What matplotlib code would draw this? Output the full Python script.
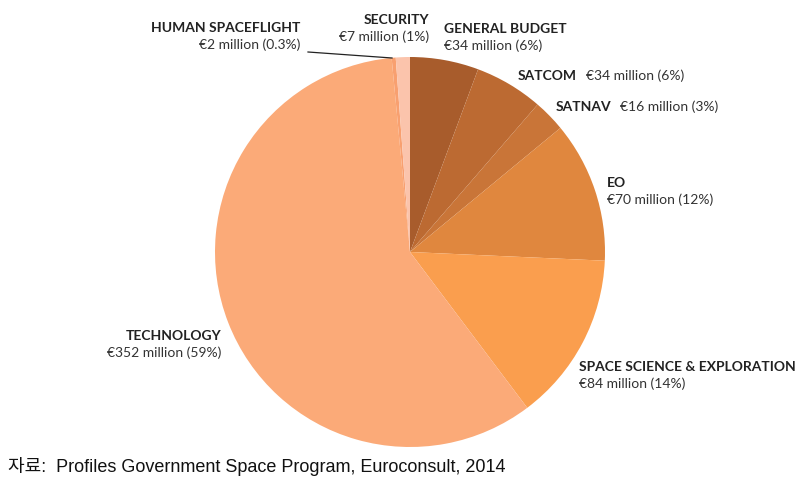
import matplotlib.pyplot as plt

# Budget breakdown, clockwise from 12 o'clock
names = ["GENERAL BUDGET", "SATCOM", "SATNAV", "EO",
         "SPACE SCIENCE & EXPLORATION", "TECHNOLOGY",
         "HUMAN SPACEFLIGHT", "SECURITY"]
values = [34, 34, 16, 70, 84, 352, 2, 7]
value_labels = ["€34 million (6%)", "€34 million (6%)", "€16 million (3%)",
                "€70 million (12%)", "€84 million (14%)", "€352 million (59%)",
                "€2 million (0.3%)", "€7 million (1%)"]
colors = ["#a85c2c", "#bc6a32", "#c97538", "#e0873e",
          "#fa9e4e", "#fbaa78", "#f8a070", "#fbc4ac"]

W, H = 805, 490
fig = plt.figure(figsize=(W / 100, H / 100), dpi=100)
ax = fig.add_axes([0, 0, 1, 1])

# pie centre / radius in pixel units (y measured from bottom)
cx, cy, r = 410, H - 252, 195
ax.pie(values, colors=colors, startangle=90, counterclock=False,
       center=(cx, cy), radius=r, frame=True,
       wedgeprops=dict(linewidth=0))
ax.set_xlim(0, W)
ax.set_ylim(0, H)
ax.axis("off")

lab_font = "Lato"
fs = 10
name_col = "#222222"
val_col = "#333333"


def label(x, y, i, ha="left", gap=17):
    ax.text(x, H - y, names[i], ha=ha, va="center", fontsize=fs,
            fontweight="bold", color=name_col, family=lab_font)
    ax.text(x, H - y - gap, value_labels[i], ha=ha, va="center", fontsize=fs,
            color=val_col, family=lab_font)


label(444, 29, 0)
label(607, 183, 3)
label(579, 367, 4)
label(221, 336, 5, ha="right")
label(300, 28, 6, ha="right")
label(429, 20, 7, ha="right")

# single-line labels
ax.text(518, H - 76, names[1], ha="left", va="center", fontsize=fs,
        fontweight="bold", color=name_col, family=lab_font)
ax.text(586, H - 76, value_labels[1], ha="left", va="center", fontsize=fs,
        color=val_col, family=lab_font)
ax.text(556, H - 107, names[2], ha="left", va="center", fontsize=fs,
        fontweight="bold", color=name_col, family=lab_font)
ax.text(620, H - 107, value_labels[2], ha="left", va="center", fontsize=fs,
        color=val_col, family=lab_font)

# leader line for human spaceflight
ax.plot([308, 392], [H - 52, H - 58], color="#222222", lw=0.9)

ax.text(8, H - 466, "자료:  Profiles Government Space Program, Euroconsult, 2014",
        ha="left", va="center", fontsize=13, color="#111111",
        family=["Liberation Sans", "Noto Sans CJK KR"])

fig.savefig("out.png", dpi=100)
